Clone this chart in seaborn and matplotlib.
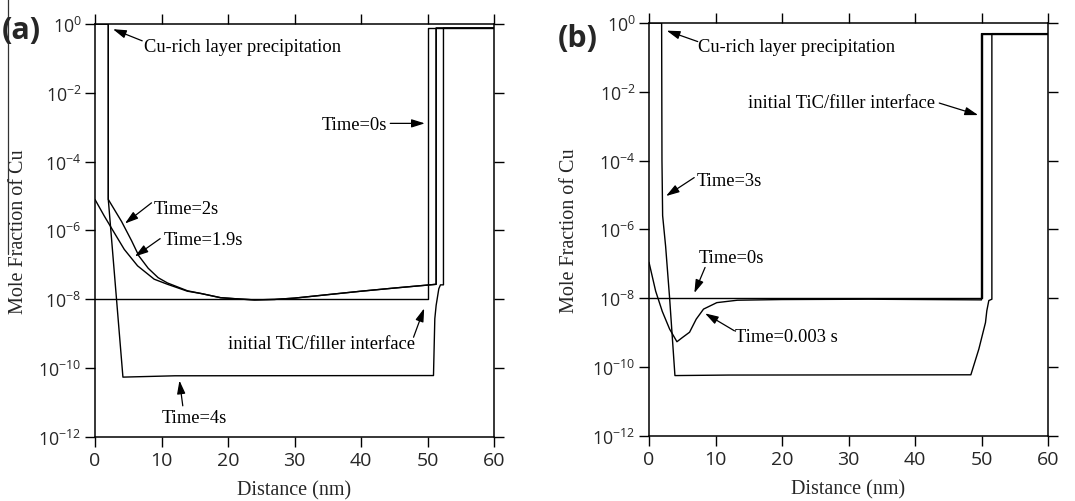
import numpy as np
import pandas as pd
import matplotlib
matplotlib.use("Agg")
import matplotlib.pyplot as plt
import seaborn as sns
from matplotlib.lines import Line2D
from matplotlib.ticker import NullLocator

# ---------------- data: panel (a) ----------------
a_t0_x = [0, 50, 50, 60]
a_t0_y = [1e-8, 1e-8, 0.76, 0.76]

a_t19_x = [0, 1.4, 2.9, 4.4, 6.4, 8.9, 10.9, 13.9, 16.0, 18.9, 22.0, 24.0, 27.0,
           30.0, 35.0, 40.0, 45.0, 51.3, 51.3, 60]
a_t19_y = [7.9e-6, 2.6e-6, 8.5e-7, 2.8e-7, 9.3e-8, 3.8e-8, 2.7e-8, 1.7e-8, 1.45e-8,
           1.1e-8, 1.0e-8, 9.5e-9, 9.8e-9, 1.07e-8, 1.35e-8, 1.7e-8, 2.1e-8, 2.7e-8,
           0.76, 0.76]

a_t2_x = [0, 2.0, 2.0, 4.0, 5.5, 6.6, 8.0, 9.5, 10.9, 13.9, 16.0, 18.9, 22.0, 24.0,
          27.0, 30.0, 35.0, 40.0, 45.0, 51.3, 51.3, 60]
a_t2_y = [1.0, 1.0, 7.9e-6, 1.8e-6, 5.0e-7, 1.8e-7, 7.9e-8, 4.2e-8, 2.95e-8, 1.75e-8,
          1.45e-8, 1.1e-8, 1.0e-8, 9.5e-9, 9.8e-9, 1.07e-8, 1.35e-8, 1.7e-8, 2.1e-8,
          2.7e-8, 0.76, 0.76]

a_t4_x = [0, 2.0, 2.0, 4.2, 12.0, 50.9, 51.1, 51.3, 51.7, 51.95, 52.4, 52.4, 60]
a_t4_y = [1.0, 1.0, 7.9e-6, 5.4e-11, 5.9e-11, 6.0e-11, 2.7e-9, 6.6e-9, 2.0e-8,
          2.6e-8, 2.6e-8, 0.76, 0.76]

# ---------------- data: panel (b) ----------------
b_t0_x = [0, 50, 50, 60]
b_t0_y = [1e-8, 1e-8, 0.49, 0.49]

b_t0003_x = [0, 1.0, 2.0, 3.1, 4.2, 5.0, 6.1, 7.1, 8.2, 10.2, 13.3, 20, 33, 50, 50, 60]
b_t0003_y = [1.1e-7, 1.6e-8, 4.1e-9, 1.26e-9, 5.4e-10, 7.1e-10, 1.02e-9, 2.45e-9,
             4.8e-9, 7.4e-9, 8.7e-9, 9.1e-9, 9.3e-9, 8.9e-9, 0.49, 0.49]

b_t3_x = [0, 1.9, 1.95, 2.05, 2.5, 3.1, 3.9, 12, 48.4, 49.6, 50.6, 50.8, 51.1, 51.56,
          51.56, 60]
b_t3_y = [1.0, 1.0, 1e-4, 2.5e-6, 3.2e-7, 1e-8, 5.6e-11, 5.8e-11, 5.9e-11, 3.3e-10,
          1.95e-9, 4.3e-9, 8.5e-9, 9.3e-9, 0.49, 0.49]

# axis ticks
x_ticks = [0, 10, 20, 30, 40, 50, 60]
y_ticks = [1e-12, 1e-10, 1e-8, 1e-6, 1e-4, 1e-2, 1e0]

# annotations: text, text x, text y, ha, arrow tail (x, y), arrow tip (x, y)
a_notes = [
    ("Cu-rich layer precipitation", 7.4, 0.166, "left", (7.1, 0.324), (2.7, 0.708)),
    ("Time=0s", 43.9, 8.9e-4, "right", (44.4, 1.29e-3), (49.6, 1.29e-3)),
    ("Time=2s", 8.9, 3.2e-6, "left", (8.5, 6.3e-6), (4.5, 1.58e-6)),
    ("Time=1.9s", 10.3, 3.9e-7, "left", (9.8, 5.75e-7), (6.0, 1.74e-7)),
    ("initial TiC/filler interface", 48.1, 3.7e-10, "right", (47.9, 7.8e-10), (49.5, 5.4e-9)),
    ("Time=4s", 10.1, 2.6e-12, "left", (13.2, 7.9e-12), (12.7, 4.3e-11)),
]
b_notes = [
    ("Cu-rich layer precipitation", 7.43, 0.155, "left", (7.33, 0.288), (2.66, 0.60)),
    ("initial TiC/filler interface", 43.05, 3.7e-3, "right", (43.65, 4.7e-3), (49.5, 2.1e-3)),
    ("Time=3s", 7.2, 2.0e-5, "left", (6.8, 3.2e-5), (2.56, 9.3e-6)),
    ("Time=0s", 7.43, 1.15e-7, "left", (8.43, 7.8e-8), (6.82, 1.41e-8)),
    ("Time=0.003 s", 12.95, 5.75e-10, "left", (12.85, 1.12e-9), (8.43, 3.6e-9)),
]

# ---------------- style ----------------
sns.set_theme(style="ticks")
plt.rcParams["font.family"] = ["Open Sans", "DejaVu Sans"]
plt.rcParams["axes.unicode_minus"] = False
plt.rcParams["mathtext.fontset"] = "custom"
plt.rcParams["mathtext.rm"] = "Open Sans"
plt.rcParams["mathtext.it"] = "Open Sans:italic"
plt.rcParams["mathtext.bf"] = "Open Sans:bold"

SERIF = ["Liberation Serif", "DejaVu Serif"]

fig = plt.figure(figsize=(10.75, 5.02), dpi=100)
ax_a = fig.add_axes([95 / 1075, 1 - 437.7 / 502, 399 / 1075, 412.7 / 502])
ax_b = fig.add_axes([649 / 1075, 1 - 436.7 / 502, 399 / 1075, 412.7 / 502])

series_a = [(a_t0_x, a_t0_y), (a_t19_x, a_t19_y), (a_t2_x, a_t2_y), (a_t4_x, a_t4_y)]
series_b = [(b_t0_x, b_t0_y), (b_t0003_x, b_t0003_y), (b_t3_x, b_t3_y)]


def draw(ax, series, notes, ylabel_x):
    for xs, ys in series:
        df = pd.DataFrame({"x": xs, "y": ys})
        sns.lineplot(data=df, x="x", y="y", sort=False, estimator=None,
                     color="black", lw=1.0, ax=ax)
    ax.set_yscale("log")
    ax.set_xlim(0, 60)
    ax.set_ylim(1e-12, 1)
    ax.set_xticks(x_ticks)
    ax.set_yticks(y_ticks)
    ax.yaxis.set_minor_locator(NullLocator())
    ax.xaxis.set_minor_locator(NullLocator())
    ax.tick_params(which="both", direction="out", top=True, right=True,
                   length=7.2, width=1.0, color="black")
    ax.tick_params(axis="x", labelsize=14, pad=3.0)
    ax.tick_params(axis="y", labelsize=12.8, pad=2.5)
    for s in ax.spines.values():
        s.set_linewidth(1.1)
        s.set_color("black")
    ax.set_xlabel("Distance (nm)", fontsize=14.5, family=SERIF)
    ax.set_ylabel("Mole Fraction of Cu", fontsize=14.5, family=SERIF)
    ax.xaxis.set_label_coords(0.5, -0.106)
    ax.yaxis.set_label_coords(ylabel_x, 0.5)
    for txt, tx, ty, ha, tail, tip in notes:
        ax.text(tx, ty, txt, ha=ha, va="baseline", fontsize=13.3, family=SERIF,
                color="black")
        ax.annotate("", xy=tip, xytext=tail,
                    arrowprops=dict(arrowstyle="-|>,head_length=0.8,head_width=0.25",
                                    color="black", lw=0.9, shrinkA=0, shrinkB=0,
                                    mutation_scale=10))


draw(ax_a, series_a, a_notes, -0.168)
draw(ax_b, series_b, b_notes, -0.175)

fig.text(0.002, 1 - 31 / 502, "(a)", fontsize=22, fontweight="bold", va="center", ha="left")
fig.text(558 / 1075, 1 - 38.5 / 502, "(b)", fontsize=22, fontweight="bold", va="center", ha="left")

# thin edge line seen at the left border of the original figure
fig.add_artist(Line2D([7.5 / 1075, 7.5 / 1075], [1.0, 1 - 255 / 502],
                      transform=fig.transFigure, color="#333333", lw=0.9))

fig.savefig("out.png", dpi=100)
